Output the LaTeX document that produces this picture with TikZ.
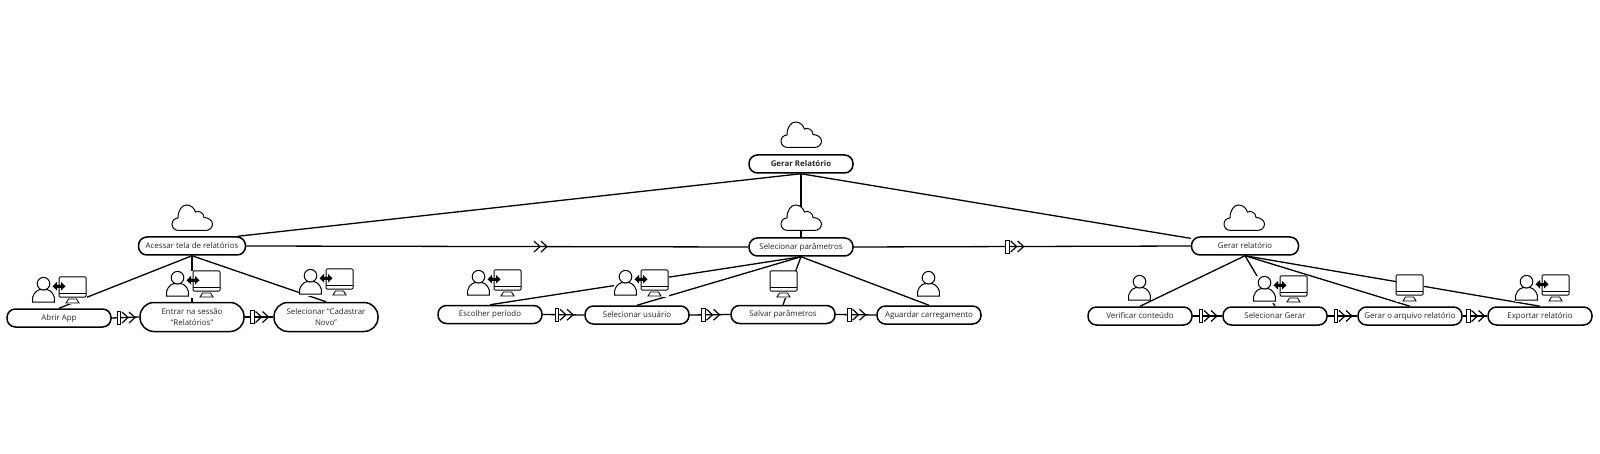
\documentclass[tikz,border=0pt]{standalone}
\usepackage{fontspec}
\setmainfont{Open Sans}
\usepackage{tikz}

\tikzset{
  activity/.style={draw,fill=white,line width=1.5pt,rounded corners=8.5pt,minimum width=104pt,minimum height=18pt,inner sep=0pt,align=center,text=black!85,font=\fontsize{7.9}{11}\selectfont},
  talltask/.style={activity,rounded corners=14pt,minimum height=29pt},
  link/.style={line width=1.3pt},
  cloudicon/.pic={
    \draw[fill=white,line width=1pt] (7,25.5) .. controls (2,25.5) and (0,22) .. (0,19) .. controls (0,15.5) and (3,13) .. (6,13) .. controls (6,5) and (10,0) .. (14.5,0) .. controls (19,0) and (22,3) .. (23.5,7) .. controls (27,5) and (32,8) .. (32,12.5) .. controls (37,12.5) and (40.5,16) .. (40.5,19) .. controls (40.5,23) and (37,25.5) .. (33.5,25.5) -- cycle;
  },
  usericon/.pic={
    \draw[fill=white,line width=1pt] (0.5,25) .. controls (-0.5,18) and (4,13.5) .. (8,12.5) -- (15,12.5) .. controls (19,13.5) and (23.5,18) .. (22.5,25) -- cycle;
    \draw[fill=white,line width=1pt] (11.5,6.7) circle (6.3);
  },
  screenicon/.pic={
    \fill[white] (0,0) rectangle (27.5,26.5);
    \draw[fill=white,line width=1pt,rounded corners=1pt] (0,0) rectangle (27,20);
    \draw[line width=1pt] (0,16.5) -- (27,16.5);
    \draw[fill=white,line width=0.9pt] (9.5,22) -- (17.5,22) -- (20,26) -- (7,26) -- cycle;
  },
  bothicon/.pic={
    \fill[white] (0,0) rectangle (55,26.5);
    \pic at (0,0) {usericon};
    \pic at (27,0) {screenicon};
    \fill (20.5,9.3) -- (25,5) -- (25,7.8) -- (29,7.8) -- (29,5) -- (33.5,9.3) -- (29,13.6) -- (29,10.8) -- (25,10.8) -- (25,13.6) -- cycle;
  },
  twochevrons/.pic={
    \draw[line width=1.2pt] (-3.5,-5.5) -- (2.5,0) -- (-3.5,5.5);
    \draw[line width=1.2pt] (3.5,-5.5) -- (9.5,0) -- (3.5,5.5);
  },
  flowmark/.pic={
    \draw[fill=white,line width=1pt] (-8.5,-6.5) rectangle (-5,6.5);
    \pic {twochevrons};
  },
}

\begin{document}
\begin{tikzpicture}[x=1pt,y=-1pt]
  \useasboundingbox (0,0) rectangle (1600,454);

  \node(root)[activity,font=\fontsize{7.9}{11}\selectfont\bfseries] at (801,164) {Gerar Relatório};
  \node(acessar)[activity,minimum width=107pt] at (192,246) {Acessar tela de relatórios};
  \node(selparam)[activity] at (801,247) {Selecionar parâmetros};
  \node(gerarrel)[activity,minimum width=107pt] at (1245,246) {Gerar relatório};

  \node(abrir)[activity] at (59,318) {Abrir App};
  \node(entrar)[talltask] at (192,317) {Entrar na sessão\\“Relatórios”};
  \node(cadastrar)[talltask] at (326,317) {Selecionar “Cadastrar\\Novo”};

  \node(periodo)[activity] at (490,314.5) {Escolher período};
  \node(usuario)[activity] at (637,315) {Selecionar usuário};
  \node(salvar)[activity] at (783,314.5) {Salvar parâmetros};
  \node(aguardar)[activity] at (929,315) {Aguardar carregamento};

  \node(verificar)[activity] at (1140,316) {Verificar conteúdo};
  \node(selgerar)[activity] at (1275,316) {Selecionar Gerar};
  \node(arquivo)[activity] at (1410,316) {Gerar o arquivo relatório};
  \node(exportar)[activity] at (1540,316) {Exportar relatório};

  \draw[link] (root.270) -- (acessar.12);
  \draw[link] (root.270) -- (selparam.90);
  \draw[link] (root.270) -- (gerarrel.172);

  \draw[link] (acessar.0) -- pic[pos=0.58] {twochevrons} (selparam.180);
  \draw[link] (selparam.0) -- pic[pos=0.476] {flowmark} (gerarrel.180);

  \draw[link] (acessar.270) -- (abrir.90);
  \draw[link] (acessar.270) -- (entrar.90);
  \draw[link] (acessar.270) -- (cadastrar.90);
  \draw[link] (selparam.270) -- (periodo.90);
  \draw[link] (selparam.270) -- (usuario.90);
  \draw[link] (selparam.270) -- (salvar.90);
  \draw[link] (selparam.270) -- (aguardar.90);
  \draw[link] (gerarrel.270) -- (verificar.90);
  \draw[link] (gerarrel.270) -- (selgerar.90);
  \draw[link] (gerarrel.270) -- (arquivo.90);
  \draw[link] (gerarrel.270) -- (exportar.90);

  \draw[link] (abrir.0) -- pic {flowmark} (entrar.180);
  \draw[link] (entrar.0) -- pic {flowmark} (cadastrar.180);
  \draw[link] (periodo.0) -- pic {flowmark} (usuario.180);
  \draw[link] (usuario.0) -- pic {flowmark} (salvar.180);
  \draw[link] (salvar.0) -- pic {flowmark} (aguardar.180);
  \draw[link] (verificar.0) -- pic {flowmark} (selgerar.180);
  \draw[link] (selgerar.0) -- pic {flowmark} (arquivo.180);
  \draw[link] (arquivo.0) -- pic {flowmark} (exportar.180);

  \pic at (781,122) {cloudicon};
  \pic at (781,205) {cloudicon};
  \pic at (172,205) {cloudicon};
  \pic at (1224,205) {cloudicon};

  \pic at (32,277) {bothicon};
  \pic at (166,271) {bothicon};
  \pic at (299,269) {bothicon};
  \pic at (467,270) {bothicon};
  \pic at (614,270) {bothicon};
  \pic at (770,271) {screenicon};
  \pic at (917,271) {usericon};
  \pic at (1128,275) {usericon};
  \pic at (1253,276) {bothicon};
  \pic at (1396,275) {screenicon};
  \pic at (1515,275) {bothicon};
\end{tikzpicture}
\end{document}
